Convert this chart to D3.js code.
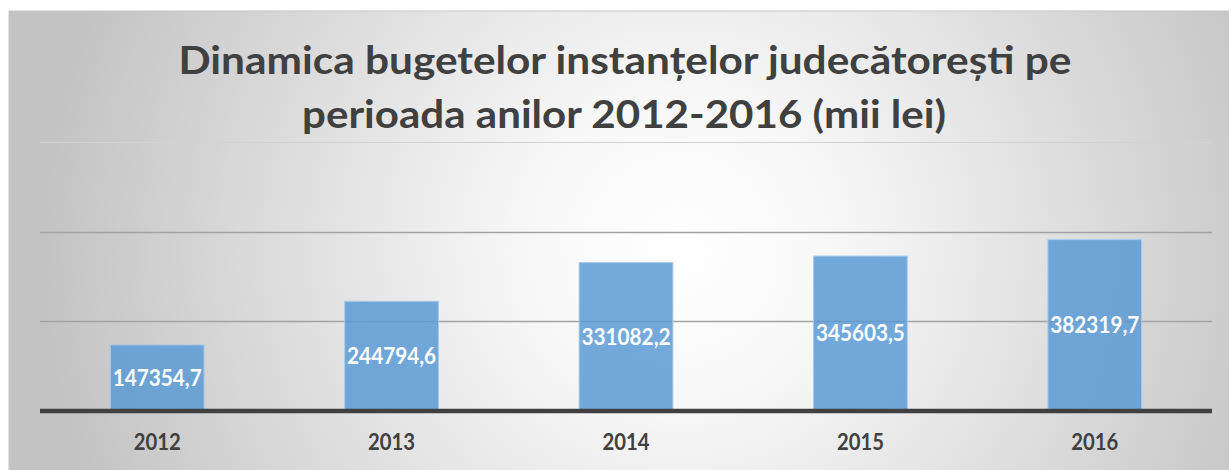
<!DOCTYPE html>
<html>
<head>
<meta charset="utf-8">
<script src="https://cdn.jsdelivr.net/npm/d3@7"></script>
<style>
  html, body { margin: 0; padding: 0; background: #ffffff; }
  svg { display: block; }
  text { font-family: Lato, "Open Sans", sans-serif; font-weight: bold; }
</style>
</head>
<body>
<svg id="chart" width="1229" height="470"></svg>
<script>
const categories = ["2012", "2013", "2014", "2015", "2016"];
const values = [147354.7, 244794.6, 331082.2, 345603.5, 382319.7];
const yTicks = [0, 200000, 400000, 600000];
const titleLines = ["Dinamica bugetelor instanțelor judecătorești pe", "perioada anilor 2012-2016 (mii lei)"];

const svg = d3.select("#chart");
const W = 1229, H = 470;
const frame = { x: 9, y: 11 };
const plot = { left: 40, right: 1212, top: 142, bottom: 411 };

// background gradient
const defs = svg.append("defs");
const grad = defs.append("radialGradient")
  .attr("id", "bg").attr("gradientUnits", "userSpaceOnUse")
  .attr("cx", 680).attr("cy", 250).attr("r", 640);
grad.append("stop").attr("offset", "0").attr("stop-color", "#ffffff");
grad.append("stop").attr("offset", "0.25").attr("stop-color", "#f7f7f7");
grad.append("stop").attr("offset", "1").attr("stop-color", "#c3c3c3");

svg.append("rect").attr("x", frame.x).attr("y", frame.y)
  .attr("width", W - frame.x + 5).attr("height", H - frame.y + 5)
  .attr("fill", "url(#bg)").attr("stroke", "#c6c6c6").attr("stroke-width", 1);

const x = d3.scaleBand().domain(categories).range([plot.left, plot.right])
  .paddingInner(0.6).paddingOuter(0.3);
const y = d3.scaleLinear().domain([0, 600000]).range([plot.bottom, plot.top]);

// gridlines
svg.append("g").selectAll("line").data(yTicks.filter(d => d > 0)).join("line")
  .attr("x1", plot.left).attr("x2", plot.right)
  .attr("y1", d => Math.round(y(d)) + 0.5).attr("y2", d => Math.round(y(d)) + 0.5)
  .attr("stroke", d => d === 600000 ? "#d2d2d2" : "#a2a2a2")
  .attr("stroke-width", d => d === 600000 ? 1 : 1.3);

// bars
svg.append("g").selectAll("rect").data(values).join("rect")
  .attr("x", (d, i) => x(categories[i]))
  .attr("width", x.bandwidth())
  .attr("y", d => y(d))
  .attr("height", d => y(0) - y(d))
  .attr("fill", "#5b9bd5").attr("fill-opacity", 0.85)
  .attr("stroke", "#a9cbea").attr("stroke-width", 1);

// baseline (x axis)
const xAxis = d3.axisBottom(x).tickSize(0).tickPadding(23);
const gx = svg.append("g").attr("transform", `translate(0,${plot.bottom})`).call(xAxis);
gx.select(".domain").attr("stroke", "#404040").attr("stroke-width", 4.5)
  .attr("d", `M${plot.left},0H${plot.right}`);
gx.selectAll(".tick text")
  .style("font-family", "Lato, 'Open Sans', sans-serif").style("font-weight", "bold")
  .attr("font-size", 22).attr("fill", "#404040").attr("dy", "0.71em")
  .attr("textLength", 47).attr("lengthAdjust", "spacingAndGlyphs");

// data labels
const fmt = d => d3.format(".1f")(d).replace(".", ",");
svg.append("g").selectAll("text").data(values).join("text")
  .attr("x", (d, i) => x(categories[i]) + x.bandwidth() / 2)
  .attr("y", d => (y(d) + y(0)) / 2)
  .attr("text-anchor", "middle").attr("dy", "0.36em")
  .attr("font-size", 22).attr("fill", "#ffffff")
  .attr("textLength", 89).attr("lengthAdjust", "spacingAndGlyphs")
  .text(fmt);

// title
svg.append("text").attr("x", 625).attr("y", 74).attr("text-anchor", "middle")
  .attr("font-size", 37.5).attr("fill", "#404040")
  .attr("textLength", 893).attr("lengthAdjust", "spacingAndGlyphs")
  .text(titleLines[0]);
svg.append("text").attr("x", 624).attr("y", 128).attr("text-anchor", "middle")
  .attr("font-size", 37.5).attr("fill", "#404040")
  .attr("textLength", 644).attr("lengthAdjust", "spacingAndGlyphs")
  .text(titleLines[1]);
</script>
</body>
</html>
